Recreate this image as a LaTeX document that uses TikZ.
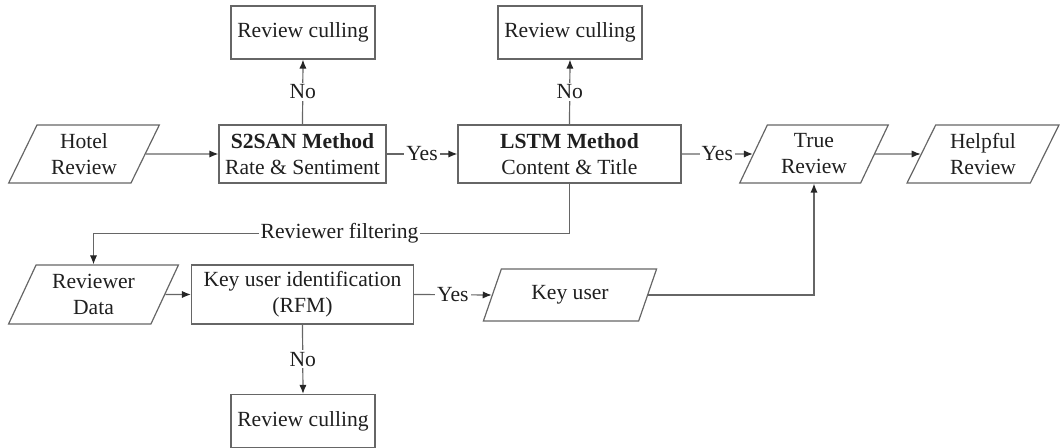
\documentclass[tikz,border=0pt]{standalone}
\usepackage{fontspec}
\setmainfont{LiberationSerif}[Extension=.ttf, UprightFont=*-Regular, BoldFont=*-Bold,
  ItalicFont=*-Italic, BoldItalicFont=*-BoldItalic]
\usetikzlibrary{arrows.meta,shapes.geometric}
\begin{document}
\begin{tikzpicture}[x=0.5pt,y=-0.5pt,
  every node/.style={font=\rmfamily\fontsize{10.8}{13}\selectfont, text=black!88, align=center},
  proc/.style={draw=black!60, line width=0.6pt, rectangle, minimum height=29pt, inner sep=1pt},
  cull/.style={proc, minimum width=72pt, minimum height=26.5pt},
  io/.style={draw=black!60, line width=0.6pt, trapezium, trapezium left angle=65,
    trapezium right angle=115, trapezium stretches=true, minimum height=29pt, inner sep=1pt},
  conn/.style={draw=black!60, line width=0.6pt, -{Latex[length=4.5pt,width=3.6pt,color=black!85]}},
  tag/.style={fill=white, inner sep=1pt}
]
\useasboundingbox (0,0) rectangle (1062,448);

% top row: culling boxes
\node[cull] (rc1) at (303,32.5) {Review culling};
\node[cull] (rc2) at (570,32.5) {Review culling};

% middle row
\node[io, minimum width=75.5pt] (hr) at (84,154) {Hotel\\Review};
\node[proc, minimum width=83.5pt] (s2) at (302.5,154) {\textbf{S2SAN Method}\\Rate \& Sentiment};
\node[proc, minimum width=111.5pt] (lstm) at (569.5,154) {\textbf{LSTM Method}\\Content \& Title};
\node[io, minimum width=74.5pt] (tr) at (814,154) {True\\Review};
\node[io, minimum width=76pt] (hp) at (983,154) {Helpful\\Review};

% lower row
\node[io, minimum width=85.5pt, minimum height=29.5pt] (rd) at (93.5,294.5) {Reviewer\\Data};
\node[proc, minimum width=111pt, minimum height=29.5pt] (ku) at (302.5,294.5) {Key user identification\\(RFM)};
\node[io, minimum width=87pt, minimum height=26pt] (kus) at (570,295) {Key user};
\node[cull] (rc3) at (303,421) {Review culling};

\coordinate (rfy) at (0,233.3);

% connectors
\draw[conn] (hr.east) -- (s2.west);
\draw[conn] (s2.north) -- node[tag]{No} (rc1.south);
\draw[conn] (s2.east) -- node[tag]{Yes} (lstm.west);
\draw[conn] (lstm.north) -- node[tag]{No} (rc2.south);
\draw[conn] (lstm.east) -- node[tag]{Yes} (tr.west);
\draw[conn] (tr.east) -- (hp.west);
\draw[conn] (lstm.south) -- (lstm.south |- rfy)
  -- node[tag, pos=0.483]{Reviewer filtering} (rd.north |- rfy) -- (rd.north);
\draw[conn] (rd.east) -- (ku.west);
\draw[conn] (ku.east) -- node[tag]{Yes} (kus.west);
\draw[conn] (ku.south) -- node[tag]{No} (rc3.north);
\draw[conn] (kus.east) -| (tr.south);
\end{tikzpicture}
\end{document}
